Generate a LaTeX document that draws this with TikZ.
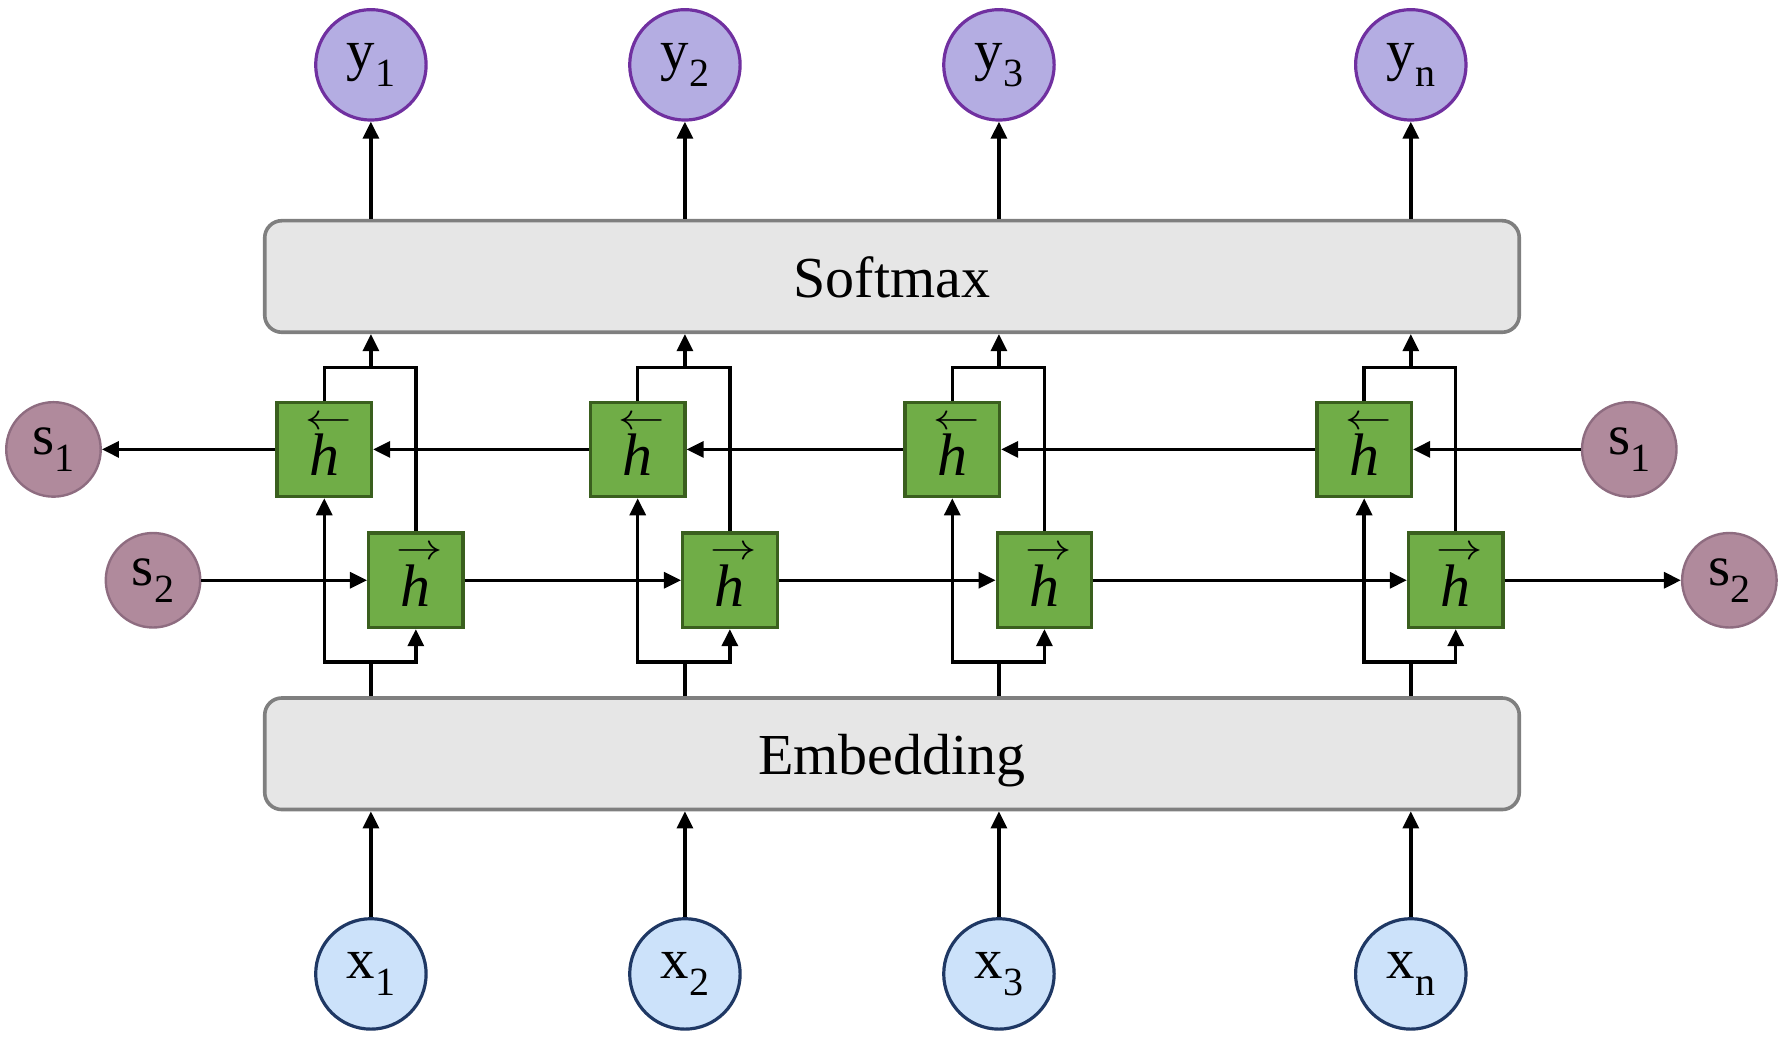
\documentclass[tikz,border=0pt]{standalone}
\usepackage{fontspec}
\setmainfont{Liberation Serif}
\usetikzlibrary{arrows.meta}
\definecolor{yfill}{HTML}{B4ADE2}
\definecolor{ydraw}{HTML}{7030A0}
\definecolor{xfill}{HTML}{CCE2FA}
\definecolor{xdraw}{HTML}{1F3864}
\definecolor{sfill}{HTML}{B08A9C}
\definecolor{sdraw}{HTML}{8E6C80}
\definecolor{barfill}{HTML}{E6E6E6}
\definecolor{bardraw}{HTML}{7F7F7F}
\definecolor{hfill}{HTML}{70AD47}
\definecolor{hdraw}{HTML}{3A5F1E}
\newcommand\sbs[1]{\raisebox{-0.3em}{\fontsize{10pt}{10pt}\selectfont #1}}
\newcommand\harr[1]{\ooalign{\textit{h}\cr\hidewidth\hspace{2pt}\raisebox{11.6pt}{\scalebox{1.25}[1]{\fontsize{9.5pt}{9.5pt}\selectfont$#1$}}\hidewidth\cr}}
\newcommand\hfw{\harr{\rightarrow}}
\newcommand\hbw{\harr{\leftarrow}}
\begin{document}
\begin{tikzpicture}[x=0.01cm,y=-0.01cm,
  lbl/.style={font=\fontsize{14.2pt}{16pt}\selectfont},
  ycirc/.style={circle,minimum size=0.97cm,inner sep=0pt,fill=yfill,draw=ydraw,line width=0.8pt,lbl},
  xcirc/.style={circle,minimum size=0.97cm,inner sep=0pt,fill=xfill,draw=xdraw,line width=0.8pt,lbl},
  scirc/.style={circle,minimum size=0.83cm,inner sep=0pt,fill=sfill,draw=sdraw,line width=0.6pt,lbl},
  bar/.style={rectangle,rounded corners=0.15cm,minimum width=11.02cm,minimum height=0.98cm,fill=barfill,draw=bardraw,line width=0.9pt,text height=10.6pt,text depth=0pt,font=\fontsize{14.5pt}{17pt}\selectfont},
  hbox/.style={rectangle,minimum size=0.83cm,inner sep=0pt,fill=hfill,draw=hdraw,line width=0.8pt,text height=13.0pt,text depth=0pt,font=\fontsize{15pt}{17pt}\selectfont},
  conn/.style={line width=0.85pt,draw=black},
  arr/.style={conn,-{Triangle[length=0.15cm,width=0.14cm]}}]
\useasboundingbox (0,0) rectangle (1568,912);
% bars
\node[bar] (soft) at (784,243) {Softmax};
\node[bar] (emb) at (784,662.5) {Embedding};
% circles
\node[ycirc] (y1) at (326,57) {y\sbs{1}};
\node[ycirc] (y2) at (602,57) {y\sbs{2}};
\node[ycirc] (y3) at (878,57) {y\sbs{3}};
\node[ycirc] (yn) at (1240,57) {y\sbs{n}};
\node[xcirc] (x1) at (326,856) {x\sbs{1}};
\node[xcirc] (x2) at (602,856) {x\sbs{2}};
\node[xcirc] (x3) at (878,856) {x\sbs{3}};
\node[xcirc] (xn) at (1240,856) {x\sbs{n}};
\node[scirc] (s1l) at (47,395) {s\sbs{1}};
\node[scirc] (s1r) at (1432,395) {s\sbs{1}};
\node[scirc] (s2l) at (134.5,510) {s\sbs{2}};
\node[scirc] (s2r) at (1520,510) {s\sbs{2}};
% h boxes
\node[hbox] (b1) at (285,395) {\hbw};
\node[hbox] (b2) at (560.5,395) {\hbw};
\node[hbox] (b3) at (837,395) {\hbw};
\node[hbox] (bn) at (1199,395) {\hbw};
\node[hbox] (f1) at (365.5,510) {\hfw};
\node[hbox] (f2) at (641.5,510) {\hfw};
\node[hbox] (f3) at (918,510) {\hfw};
\node[hbox] (fn) at (1279.5,510) {\hfw};
% junction coordinates
\coordinate (j1) at (326,582);
\coordinate (j2) at (602,582);
\coordinate (j3) at (878,582);
\coordinate (jn) at (1240,582);
\coordinate (t1) at (326,323);
\coordinate (t2) at (602,323);
\coordinate (t3) at (878,323);
\coordinate (tn) at (1240,323);
% vertical connectors
\foreach \c/\b/\f in {1/b1/f1,2/b2/f2,3/b3/f3,n/bn/fn}{
  \draw[arr] (x\c.north) -- (x\c.north |- emb.south);
  \draw[conn] (j\c |- emb.north) -- (j\c);
  \draw[arr] (j\c) -| (\b.south);
  \draw[arr] (j\c) -| (\f.south);
  \draw[conn] (\b.north) |- (t\c) -| (\f.north);
  \draw[arr] (t\c) -- (t\c |- soft.south);
  \draw[arr] (y\c.south |- soft.north) -- (y\c.south);
}
% backward chain
\draw[arr] (s1r.west) -- (bn.east);
\draw[arr] (bn.west) -- (b3.east);
\draw[arr] (b3.west) -- (b2.east);
\draw[arr] (b2.west) -- (b1.east);
\draw[arr] (b1.west) -- (s1l.east);
% forward chain
\draw[arr] (s2l.east) -- (f1.west);
\draw[arr] (f1.east) -- (f2.west);
\draw[arr] (f2.east) -- (f3.west);
\draw[arr] (f3.east) -- (fn.west);
\draw[arr] (fn.east) -- (s2r.west);
\end{tikzpicture}
\end{document}
